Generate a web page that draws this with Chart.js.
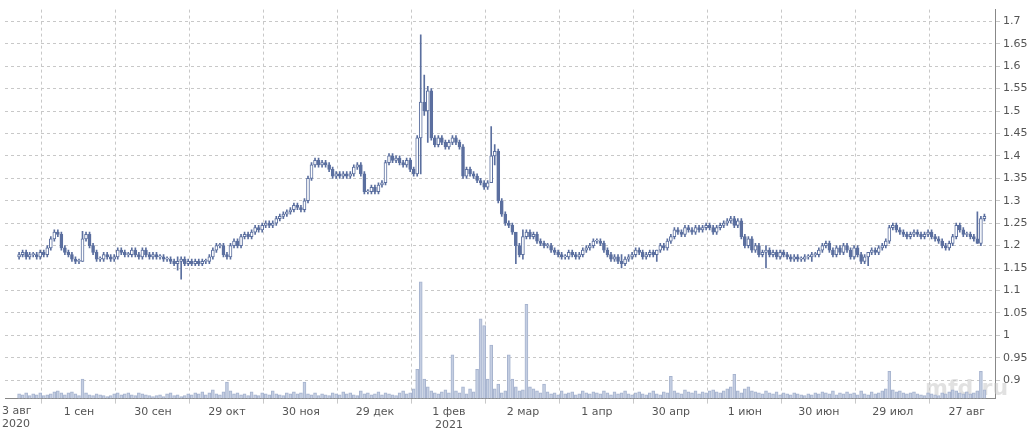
<!DOCTYPE html>
<html><head><meta charset="utf-8">
<script src="https://cdn.jsdelivr.net/npm/chart.js@4"></script>
<style>html,body{margin:0;padding:0;background:#fff}#w{width:1028px;height:434px}</style>
</head><body><div id="w"><canvas id="c"></canvas></div>
<script>
const startIdx = 4;
const closes = [
1.18,1.185,1.175,1.18,1.18,1.175,1.185,1.18,1.195,1.215,1.23,1.225,1.195,1.185,1.18,1.17,1.165,
1.165,1.215,1.225,1.2,1.185,1.17,1.17,1.18,1.175,1.17,1.175,1.19,1.185,1.18,1.18,1.19,1.18,1.175,1.19,1.18,1.175,
1.18,1.175,1.175,1.17,1.17,1.165,1.16,1.165,1.17,1.16,1.165,1.16,1.165,1.16,1.165,1.165,1.175,1.19,1.2,1.2,1.18,
1.175,1.2,1.21,1.2,1.22,1.225,1.22,1.23,1.24,1.235,1.245,1.25,1.245,1.25,1.26,1.265,1.27,1.275,1.28,1.29,1.285,
1.28,1.3,1.35,1.38,1.39,1.38,1.385,1.38,1.37,1.355,1.36,1.355,1.36,1.355,1.36,1.375,1.38,1.36,1.32,1.32,1.33,
1.32,1.335,1.34,1.385,1.4,1.39,1.395,1.385,1.38,1.39,1.37,1.36,1.44,1.52,1.5,1.545,1.44,1.425,1.44,1.43,1.42,
1.43,1.44,1.43,1.42,1.355,1.37,1.36,1.355,1.345,1.34,1.33,1.34,1.4,1.41,1.3,1.27,1.25,1.245,1.23,1.2,1.18,
1.22,1.23,1.22,1.225,1.21,1.205,1.2,1.2,1.19,1.185,1.18,1.175,1.175,1.185,1.18,1.175,1.18,1.19,1.195,1.2,1.21,
1.21,1.205,1.19,1.18,1.17,1.175,1.165,1.16,1.17,1.175,1.18,1.19,1.185,1.175,1.18,1.185,1.18,1.19,1.2,1.195,1.21,
1.22,1.235,1.23,1.225,1.24,1.235,1.23,1.24,1.235,1.24,1.245,1.24,1.23,1.24,1.245,1.25,1.255,1.26,1.245,1.255,1.22,
1.2,1.215,1.19,1.2,1.18,1.185,1.19,1.18,1.185,1.175,1.185,1.18,1.175,1.17,1.175,1.17,1.17,1.175,1.175,1.18,1.18,
1.19,1.2,1.205,1.19,1.18,1.195,1.185,1.2,1.19,1.175,1.195,1.18,1.165,1.175,1.185,1.19,1.185,1.195,1.2,1.21,1.24,
1.245,1.235,1.23,1.225,1.22,1.225,1.23,1.225,1.22,1.225,1.23,1.22,1.215,1.21,1.2,1.195,1.205,1.22,1.245,1.235,1.225,
1.225,1.22,1.215,1.205,1.26,1.265];
const firstOpen = 1.175;
const wickIdx  = [22,   49,    50,   118,  119,  120,  138,  139,  145,  147,  175,  185,  216,  229,  245,  276];
const wickHigh = [1.232,1.175, 1.175,1.67, 1.58, 1.555,1.465,1.425,1.21, 1.235,1.18, 1.19, 1.2,  1.185,1.185,1.275];
const wickLow  = [1.165,1.145, 1.125,1.36, 1.49, 1.43, 1.34, 1.38, 1.16, 1.17, 1.15, 1.165,1.15, 1.165,1.155,1.205];
const volumes = [
5,4,6,3,5,4,6,3,4,5,7,8,6,4,6,7,5,
3,20,6,4,3,5,4,3,2,3,5,6,4,5,6,4,3,6,5,4,3,
2,3,4,2,5,6,3,4,2,3,5,4,6,5,7,4,6,9,5,4,7,
17,8,5,6,4,5,3,7,4,3,6,5,4,8,5,4,3,6,5,7,5,
6,17,5,4,6,3,5,4,3,6,5,4,7,5,6,4,3,8,5,6,4,
5,7,4,6,5,4,3,6,8,5,6,10,30,120,20,12,8,6,5,7,9,
6,45,8,6,12,5,10,7,30,82,75,20,55,10,15,6,8,45,20,12,8,
9,97,12,10,8,6,15,7,5,6,4,8,5,6,7,4,5,8,6,5,7,
6,5,8,6,4,7,5,6,8,5,4,6,7,5,4,6,8,5,4,7,6,
23,8,6,5,9,7,6,8,5,7,6,8,9,7,6,8,10,12,25,8,6,
10,12,8,7,6,5,8,6,5,7,4,6,5,4,6,5,4,3,5,4,6,
5,7,6,5,8,4,6,5,7,5,6,4,8,5,4,7,5,6,8,10,28,
9,7,8,6,5,6,7,5,4,3,6,5,4,3,6,5,7,9,8,6,5,
7,5,6,8,28,9];
const xTickIdx = [0,21,42,63,84,105,126,147,168,189,210,231,252,273];
const xTickLabels = [["3 авг","2020"],"1 сен","30 сен","29 окт","30 ноя","29 дек",["1 фев","2021"],"2 мар","1 апр","30 апр","1 июн","30 июн","29 июл","27 авг"];

const up='#ffffff', dn='#5b6f9f', edge='#5b6f9f';
const bodies=[], wicks=[], vols=[], bodyFill=[];
let prev = firstOpen;
closes.forEach((c,k)=>{
  const i=startIdx+k, o=prev;
  let hi=Math.max(o,c)+0.005, lo=Math.min(o,c)-0.005;
  const w=wickIdx.indexOf(i);
  if(w>=0){hi=wickHigh[w];lo=wickLow[w];}
  let b0=Math.min(o,c), b1=Math.max(o,c); if(b1-b0<0.002){b1=b0+0.002;}
  bodies.push({x:i,y:[b0,b1]}); bodyFill.push(c>=o?up:dn);
  wicks.push({x:i,y:[lo,hi]});
  vols.push({x:i,y:volumes[k]});
  prev=c;
});
const tickMap={}; xTickIdx.forEach((v,j)=>{ if(j>0) tickMap[v]=xTickLabels[j]; });

const wm={id:'wm',
  beforeDatasetsDraw(ch){const c=ch.ctx;c.save();c.font='bold 22px "DejaVu Sans"';c.fillStyle='rgba(200,200,200,0.55)';c.fillText('mfd.ru',925,395);c.restore();},
  afterDraw(ch){const c=ch.ctx,x=ch.scales.x;c.save();c.font='11px "DejaVu Sans"';c.fillStyle='#555';c.textBaseline='top';c.textAlign='left';
    const lab=xTickLabels[0];c.fillText(lab[0],2,x.top+7);c.fillText(lab[1],2,x.top+20);c.restore();}};

new Chart(document.getElementById('c'),{
  type:'bar',
  data:{datasets:[
    {data:vols,yAxisID:'yv',backgroundColor:'rgba(196,206,226,0.9)',borderColor:'#a7b4cf',borderWidth:1,barThickness:3,grouped:false,order:3},
    {data:wicks,yAxisID:'y',backgroundColor:edge,barThickness:1,grouped:false,order:2},
    {data:bodies,yAxisID:'y',backgroundColor:bodyFill,borderColor:edge,borderWidth:1,borderSkipped:false,barThickness:3,grouped:false,order:1}
  ]},
  options:{
    responsive:true,maintainAspectRatio:false,animation:false,
    layout:{padding:{left:5,top:5,right:0,bottom:0}},
    plugins:{legend:{display:false},tooltip:{enabled:false}},
    scales:{
      x:{type:'linear',min:0,max:281,offset:false,
        afterBuildTicks(s){s.ticks=xTickIdx.map(v=>({value:v}));},
        afterFit(s){s.paddingLeft=0;s.paddingRight=0;},
        ticks:{autoSkip:false,maxRotation:0,color:'#555',font:{family:'"DejaVu Sans"',size:11},padding:2,callback:v=>tickMap[v]||''},
        grid:{color:'#c8c8c8',tickLength:5,drawTicks:true},border:{color:'#888',dash:[3,3]}
      },
      y:{position:'right',min:0.859,max:1.726,
        afterBuildTicks(s){const t=[];for(let k=0;k<=16;k++)t.push({value:+(0.9+k*0.05).toFixed(2)});s.ticks=t;},
        afterFit(s){s.width=33;},
        ticks:{color:'#555',font:{family:'"DejaVu Sans"',size:11},padding:3,callback:v=>String(+v.toFixed(2))},
        grid:{color:'#c8c8c8',tickLength:5},border:{color:'#888',dash:[3,3]}
      },
      yv:{display:false,min:0,max:400}
    }
  },
  plugins:[wm]
});
</script></body></html>
